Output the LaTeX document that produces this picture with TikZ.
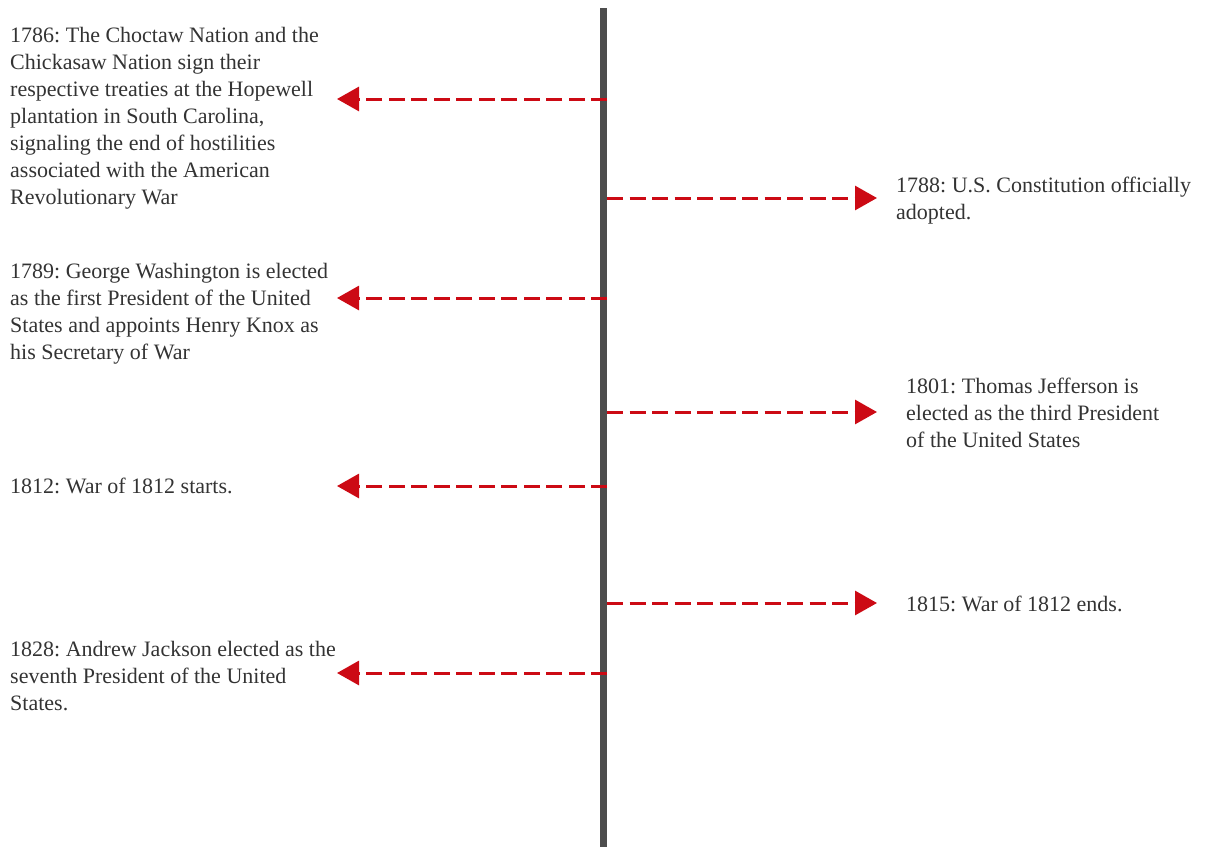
\documentclass[tikz,border=0pt]{standalone}
\usepackage{fontspec}
\setmainfont{Liberation Serif}
\usepackage{tikz}
\usetikzlibrary{arrows.meta}
\definecolor{axisgray}{HTML}{4D4D4D}
\definecolor{eventred}{HTML}{CC0A14}
\definecolor{labelgray}{HTML}{333333}
\frenchspacing

\begin{document}
\begin{tikzpicture}[x=1pt, y=-1pt,
  event/.style={anchor=north west, inner sep=0pt, align=left, text=labelgray,
    font=\fontsize{22}{27}\selectfont},
  pointer/.style={eventred, line width=3pt, dash pattern=on 16pt off 6.5pt,
    -{Triangle[length=22pt, width=24pt]}},
]
  \useasboundingbox (0,0) rectangle (1211,847);

  % time axis
  \coordinate (top) at (603.5,8);
  \coordinate (bottom) at (603.5,847);
  \draw[axisgray, line width=7pt] (top) -- (bottom);

  % left side events
  \node[event] (e1786) at (10,27) {1786: The Choctaw Nation and the\\Chickasaw Nation sign their\\respective treaties at the Hopewell\\plantation in South Carolina,\\signaling the end of hostilities\\associated with the American\\Revolutionary War};
  \node[event] (e1789) at (10,263) {1789: George Washington is elected\\as the first President of the United\\States and appoints Henry Knox as\\his Secretary of War};
  \node[event] (e1812) at (10,478) {1812: War of 1812 starts.};
  \node[event] (e1828) at (10,641) {1828: Andrew Jackson elected as the\\seventh President of the United\\States.};

  % right side events
  \node[event] (e1788) at (896,177) {1788: U.S. Constitution officially\\adopted.};
  \node[event] (e1801) at (906,378) {1801: Thomas Jefferson is\\elected as the third President\\of the United States};
  \node[event] (e1815) at (906,596) {1815: War of 1812 ends.};

  % pointers from the axis
  \foreach \yr/\y in {1786/99, 1789/298, 1812/486, 1828/673} {
    \coordinate (s\yr) at (607,\y);
    \coordinate (t\yr) at (337,\y);
    \draw[pointer] (s\yr) -- (t\yr);
  }
  \foreach \yr/\y in {1788/198, 1801/412, 1815/603} {
    \coordinate (s\yr) at (607,\y);
    \coordinate (t\yr) at (877,\y);
    \draw[pointer] (s\yr) -- (t\yr);
  }
\end{tikzpicture}
\end{document}
